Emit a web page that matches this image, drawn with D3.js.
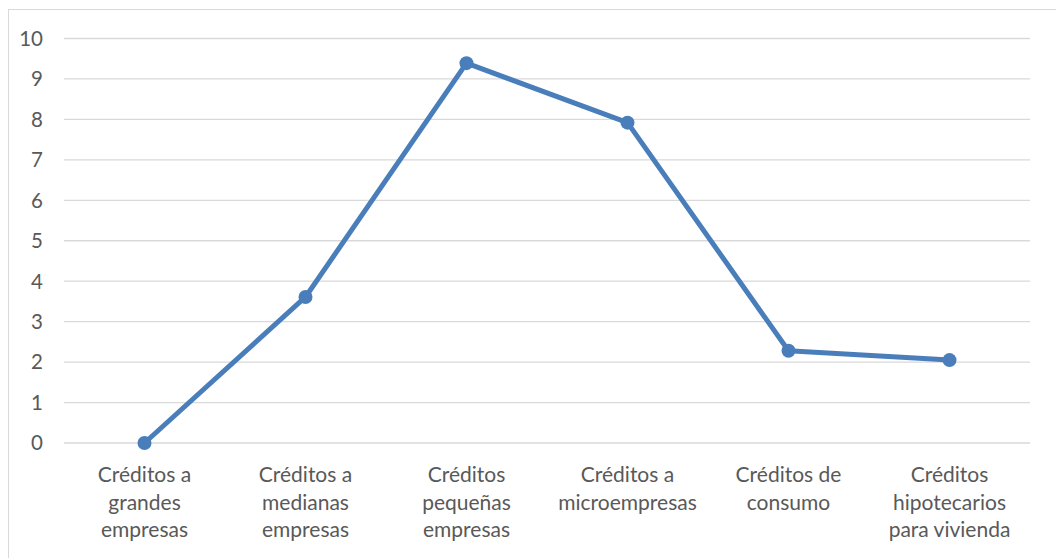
<!DOCTYPE html>
<html>
<head>
<meta charset="utf-8">
<script src="https://cdn.jsdelivr.net/npm/d3@7"></script>
<style>
  html, body { margin: 0; padding: 0; background: #fff; }
  svg { display: block; font-family: Lato, "Open Sans", sans-serif; }
</style>
</head>
<body>
<svg id="chart" width="1056" height="558"></svg>
<script>
// Credit categories (each label split into its wrapped lines)
const categories = [
  ["Créditos a", "grandes", "empresas"],
  ["Créditos a", "medianas", "empresas"],
  ["Créditos", "pequeñas", "empresas"],
  ["Créditos a", "microempresas"],
  ["Créditos de", "consumo"],
  ["Créditos", "hipotecarios", "para vivienda"]
];
const values = [0, 3.61, 9.39, 7.92, 2.28, 2.05];
const yTicks = [0, 1, 2, 3, 4, 5, 6, 7, 8, 9, 10];

const svg = d3.select("#chart");
const W = 1056, H = 558;
const margin = { left: 64, right: 26, top: 38.5, bottom: 115 };

// Outer chart frame
svg.append("rect")
  .attr("x", 8.5).attr("y", 9.5)
  .attr("width", W + 10).attr("height", H + 10)
  .attr("fill", "#fff").attr("stroke", "#d9d9d9").attr("stroke-width", 1);

const x = d3.scalePoint()
  .domain(d3.range(categories.length))
  .range([margin.left, W - margin.right])
  .padding(0.5);

const y = d3.scaleLinear()
  .domain([0, 10])
  .range([H - margin.bottom, margin.top]);

// Horizontal gridlines
svg.append("g")
  .selectAll("line")
  .data(yTicks)
  .join("line")
  .attr("x1", margin.left).attr("x2", W - margin.right)
  .attr("y1", d => y(d)).attr("y2", d => y(d))
  .attr("stroke", "#d9d9d9").attr("stroke-width", 1.3);

// Y tick labels
svg.append("g")
  .selectAll("text")
  .data(yTicks)
  .join("text")
  .attr("x", 43)
  .attr("y", d => y(d))
  .attr("dy", "0.36em")
  .attr("text-anchor", "end")
  .attr("fill", "#595959")
  .attr("font-size", 20.5)
  .text(d => d);

// Category labels
const catG = svg.append("g")
  .selectAll("text")
  .data(categories)
  .join("text")
  .attr("x", (d, i) => x(i))
  .attr("y", 482)
  .attr("text-anchor", "middle")
  .attr("fill", "#595959")
  .attr("font-size", 21);
catG.selectAll("tspan")
  .data(d => d)
  .join("tspan")
  .attr("x", function () { return d3.select(this.parentNode).attr("x"); })
  .attr("dy", (d, i) => i === 0 ? 0 : 27.5)
  .text(d => d);

// Series line
const line = d3.line()
  .x((d, i) => x(i))
  .y(d => y(d));

svg.append("path")
  .datum(values)
  .attr("d", line)
  .attr("fill", "none")
  .attr("stroke", "#4a7ebb")
  .attr("stroke-width", 5)
  .attr("stroke-linejoin", "round");

// Markers
svg.append("g")
  .selectAll("circle")
  .data(values)
  .join("circle")
  .attr("cx", (d, i) => x(i))
  .attr("cy", d => y(d))
  .attr("r", 7)
  .attr("fill", "#4a7ebb");
</script>
</body>
</html>
